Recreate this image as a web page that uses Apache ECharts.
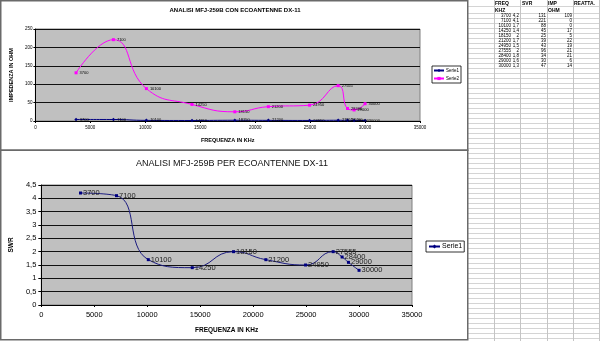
<!DOCTYPE html>
<html>
<head>
    <meta charset="UTF-8">
    <title>ANALISI MFJ-259B ECOANTENNE DX-11</title>
    <script type="text/javascript" src="https://cdn.jsdelivr.net/npm/echarts@6/dist/echarts.min.js"></script>
</head>
<body style="margin: 0;overflow: hidden;background: #fff;">
<div id="chart" style="width: 600px;height: 341px"></div>
<script type="text/javascript">
    // measured data (from the sheet)
    var freq = [3700, 7100, 10100, 14250, 18150, 21200, 24950, 27555, 28400, 29000, 30000];
    var swr = [4.2, 4.1, 1.7, 1.4, 2, 1.7, 1.5, 2, 1.8, 1.6, 1.3];
    var imp = [131, 221, 88, 45, 25, 39, 43, 96, 34, 30, 47];
    var reatta = [109, 0, 0, 17, 5, 22, 19, 21, 21, 6, 14];
    var headTop = ['FREQ', 'SVR', 'IMP', 'REATTA.'];
    var headSub = ['KHZ', '', 'OHM', ''];
    var xTicks = [0, 35000, 5000];

    var FONT = 'Liberation Sans, Arial, sans-serif';

    function pts(ys) {
        return freq.map(function (f, i) {
            return [f, ys[i]];
        });
    }
    function comma(v) {
        return String(v).replace('.', ',');
    }
    function plain(v) {
        return String(v);
    }

    function xAxisCfg(idx, fs, nameFs, gap, margin) {
        return {
            gridIndex: idx, type: 'value', min: xTicks[0], max: xTicks[1], interval: xTicks[2],
            name: 'FREQUENZA IN KHz', nameLocation: 'middle', nameGap: gap,
            nameTextStyle: {fontFamily: FONT, fontSize: nameFs, fontWeight: 'bold', color: '#000'},
            axisLine: {onZero: false, lineStyle: {color: '#000', width: 1}},
            axisTick: {show: true, length: 2, lineStyle: {color: '#000'}},
            axisLabel: {fontFamily: FONT, fontSize: fs, color: '#000', margin: margin, formatter: plain},
            splitLine: {show: false}
        };
    }

    // spreadsheet on the right
    var sheet = [];
    var colLines = [494, 520, 547, 573, 599];
    var headX = [495, 522, 548, 574];
    var valX = [511, 519, 546, 572];
    var rowLines = [6.5];
    for (var ry = 13.5; ry < 341; ry += 5) rowLines.push(ry);
    rowLines.forEach(function (y) {
        sheet.push({type: 'line', silent: true, shape: {x1: 468, y1: y, x2: 600, y2: y},
            style: {stroke: '#d4d4d4', lineWidth: 1}});
    });
    colLines.forEach(function (x) {
        sheet.push({type: 'line', silent: true, shape: {x1: x + 0.5, y1: 0, x2: x + 0.5, y2: 341},
            style: {stroke: '#c4c4c4', lineWidth: 1}});
    });
    function cellText(txt, x, y, align, bold) {
        return {type: 'text', silent: true, x: x, y: y,
            style: {text: txt, fill: '#000', fontFamily: FONT, fontSize: bold ? 5 : 4.5, fontWeight: bold ? 'bold' : 'normal',
                align: align, verticalAlign: 'middle', textAlign: align, textVerticalAlign: 'middle'}};
    }
    headTop.forEach(function (h, c) {
        sheet.push(cellText(h, headX[c], 3.5, 'left', true));
        if (headSub[c]) sheet.push(cellText(headSub[c], headX[c], 10.5, 'left', true));
    });
    freq.forEach(function (f, i) {
        var y = 16 + 5 * i;
        sheet.push(cellText(String(f), valX[0], y, 'right'));
        sheet.push(cellText(comma(swr[i]), valX[1], y, 'right'));
        sheet.push(cellText(String(imp[i]), valX[2], y, 'right'));
        sheet.push(cellText(String(reatta[i]), valX[3], y, 'right'));
    });
    // chart frames
    sheet.push({type: 'rect', silent: true, shape: {x: 0.75, y: 0.75, width: 467, height: 149.5},
        style: {fill: 'none', stroke: '#6a6a6a', lineWidth: 1.5}});
    sheet.push({type: 'rect', silent: true, shape: {x: 0.75, y: 150.25, width: 467, height: 189.5},
        style: {fill: 'none', stroke: '#6a6a6a', lineWidth: 1.5}});

    var chart = echarts.init(document.getElementById('chart'), null, {renderer: 'canvas'});
    var option = {
        animation: false,
        backgroundColor: '#fff',
        title: [{
            text: 'ANALISI MFJ-259B CON ECOANTENNE DX-11', left: 235, top: 7, padding: 0, textAlign: 'center',
            textStyle: {fontFamily: FONT, fontSize: 6, fontWeight: 'bold', color: '#000'}
        }, {
            text: 'ANALISI MFJ-259B PER ECOANTENNE DX-11', left: 232, top: 159, padding: 0, textAlign: 'center',
            textStyle: {fontFamily: FONT, fontSize: 9, fontWeight: 'normal', color: '#111'}
        }],
        legend: [{
            data: ['Serie1', 'Serie2'], orient: 'vertical', left: 432, top: 66,
            borderColor: '#000', borderWidth: 0.8, padding: [2, 2, 2, 1],
            itemWidth: 10, itemHeight: 4, itemGap: 3,
            textStyle: {fontFamily: FONT, fontSize: 4.5, color: '#000', padding: [0, 0, 0, -3]}
        }, {
            data: ['Serie1'], orient: 'vertical', left: 426, top: 241,
            borderColor: '#000', borderWidth: 0.8, padding: [2, 2, 2, 2],
            itemWidth: 11, itemHeight: 5,
            textStyle: {fontFamily: FONT, fontSize: 7, color: '#000', padding: [0, 0, 0, -3]}
        }],
        grid: [{
            left: 30, top: 29, width: 390, height: 92, show: true,
            backgroundColor: '#c0c0c0', borderColor: '#808080', borderWidth: 1
        }, {
            left: 35, top: 185, width: 377, height: 120, show: true,
            backgroundColor: '#c0c0c0', borderColor: '#808080', borderWidth: 1
        }],
        xAxis: [xAxisCfg(0, 4.5, 5.5, 16, 4), xAxisCfg(1, 7.5, 6.5, 22, 6)],
        yAxis: [{
            gridIndex: 0, type: 'value', min: 0, max: 250, interval: 50,
            name: 'IMPEDENZA IN OHM', nameLocation: 'middle', nameGap: 18,
            nameTextStyle: {fontFamily: FONT, fontSize: 5.5, fontWeight: 'bold', color: '#000'},
            axisLine: {show: true, lineStyle: {color: '#000'}},
            axisTick: {show: true, length: 2, lineStyle: {color: '#000'}},
            axisLabel: {fontFamily: FONT, fontSize: 4.5, color: '#000', margin: 3},
            splitLine: {show: true, lineStyle: {color: '#111', width: 1}}
        }, {
            gridIndex: 1, type: 'value', min: 0, max: 4.5, interval: 0.5,
            name: 'SWR', nameLocation: 'middle', nameGap: 22,
            nameTextStyle: {fontFamily: FONT, fontSize: 6.5, fontWeight: 'bold', color: '#000'},
            axisLine: {show: true, lineStyle: {color: '#000'}},
            axisTick: {show: true, length: 3, lineStyle: {color: '#000'}},
            axisLabel: {fontFamily: FONT, fontSize: 7.5, color: '#000', margin: 5, formatter: comma},
            splitLine: {show: true, lineStyle: {color: '#111', width: 1}}
        }],
        series: [{
            name: 'Serie1', type: 'line', xAxisIndex: 0, yAxisIndex: 0, data: pts(swr),
            smooth: 0.5, symbol: 'diamond', symbolSize: 3.5,
            lineStyle: {color: '#000080', width: 1}, itemStyle: {color: '#000080'},
            label: {show: true, position: 'right', distance: 2, fontFamily: FONT, fontSize: 4, color: '#000',
                formatter: function (p) { return p.value[0]; }}
        }, {
            name: 'Serie2', type: 'line', xAxisIndex: 0, yAxisIndex: 0, data: pts(imp),
            smooth: 0.5, symbol: 'rect', symbolSize: 3,
            lineStyle: {color: '#ff00ff', width: 1}, itemStyle: {color: '#ff00ff'},
            label: {show: true, position: 'right', distance: 2, fontFamily: FONT, fontSize: 4, color: '#000',
                formatter: function (p) { return p.value[0]; }}
        }, {
            name: 'Serie1', type: 'line', xAxisIndex: 1, yAxisIndex: 1, data: pts(swr),
            smooth: 0.5, symbol: 'rect', symbolSize: 3,
            lineStyle: {color: '#1c1c80', width: 1}, itemStyle: {color: '#000080'},
            label: {show: true, position: 'right', distance: 1, fontFamily: FONT, fontSize: 7.5, color: '#222',
                formatter: function (p) { return p.value[0]; }}
        }],
        graphic: sheet
    };
    chart.setOption(option);
</script>
</body>
</html>
